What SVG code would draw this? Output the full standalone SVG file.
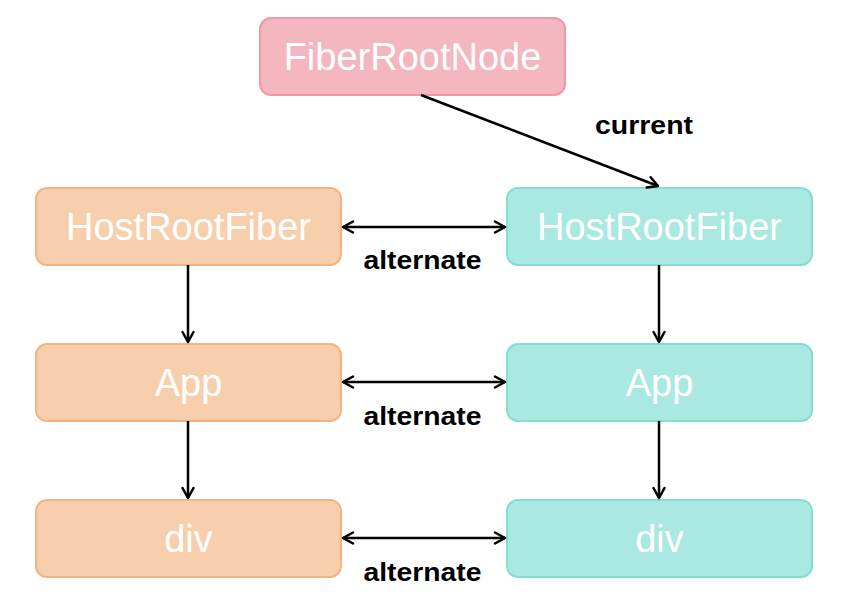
<svg xmlns="http://www.w3.org/2000/svg" width="861" height="601" viewBox="0 0 861 601">
<style>
.node rect{stroke-width:2}
.pink rect{fill:#f4b6bf;stroke:#ef99a5}
.orange rect{fill:#f8cfac;stroke:#f5b383}
.teal rect{fill:#aae8e2;stroke:#84ddd4}
.node text{font-family:"Liberation Sans",Arial,sans-serif;font-size:38px;fill:#ffffff;text-anchor:middle}
#edges line{stroke:#000;stroke-width:2.5;fill:none}
.lbl{font-family:"Liberation Sans",Arial,sans-serif;font-size:26px;font-weight:bold;fill:#000;text-anchor:middle}
</style>
<defs>
<marker id="ah" viewBox="0 0 14 14" refX="12" refY="7" markerWidth="14" markerHeight="14" markerUnits="userSpaceOnUse" orient="auto-start-reverse">
<path d="M2,1.5 L12,7 L2,12.5" fill="none" stroke="#000" stroke-width="2.5" stroke-linecap="round" stroke-linejoin="round"/>
</marker>
</defs>
<rect width="861" height="601" fill="#fff"/>
<g id="fiberRootNode" class="node pink"><rect x="260" y="18" width="305" height="77" rx="11"/><text x="412.5" y="70">FiberRootNode</text></g>
<g id="hostRootFiberOld" class="node orange"><rect x="36" y="188" width="305" height="77" rx="11"/><text x="188.5" y="240">HostRootFiber</text></g>
<g id="hostRootFiberNew" class="node teal"><rect x="507" y="188" width="305" height="77" rx="11"/><text x="659.5" y="240">HostRootFiber</text></g>
<g id="appOld" class="node orange"><rect x="36" y="344" width="305" height="77" rx="11"/><text x="188.5" y="396">App</text></g>
<g id="appNew" class="node teal"><rect x="507" y="344" width="305" height="77" rx="11"/><text x="659.5" y="396">App</text></g>
<g id="divOld" class="node orange"><rect x="36" y="500" width="305" height="77" rx="11"/><text x="188.5" y="552">div</text></g>
<g id="divNew" class="node teal"><rect x="507" y="500" width="305" height="77" rx="11"/><text x="659.5" y="552">div</text></g>
<g id="edges">
<line x1="421" y1="95" x2="658" y2="186" marker-end="url(#ah)"/>
<text class="lbl" x="644" y="134" textLength="98" lengthAdjust="spacingAndGlyphs">current</text>
<line x1="343" y1="227" x2="505" y2="227" marker-start="url(#ah)" marker-end="url(#ah)"/>
<text class="lbl" x="422.5" y="269" textLength="118" lengthAdjust="spacingAndGlyphs">alternate</text>
<line x1="343" y1="382" x2="505" y2="382" marker-start="url(#ah)" marker-end="url(#ah)"/>
<text class="lbl" x="422.5" y="425" textLength="118" lengthAdjust="spacingAndGlyphs">alternate</text>
<line x1="343" y1="538" x2="505" y2="538" marker-start="url(#ah)" marker-end="url(#ah)"/>
<text class="lbl" x="422.5" y="581" textLength="118" lengthAdjust="spacingAndGlyphs">alternate</text>
<line x1="188" y1="265" x2="188" y2="342" marker-end="url(#ah)"/>
<line x1="188" y1="421" x2="188" y2="498" marker-end="url(#ah)"/>
<line x1="659" y1="265" x2="659" y2="342" marker-end="url(#ah)"/>
<line x1="659" y1="421" x2="659" y2="498" marker-end="url(#ah)"/>
</g>
</svg>
